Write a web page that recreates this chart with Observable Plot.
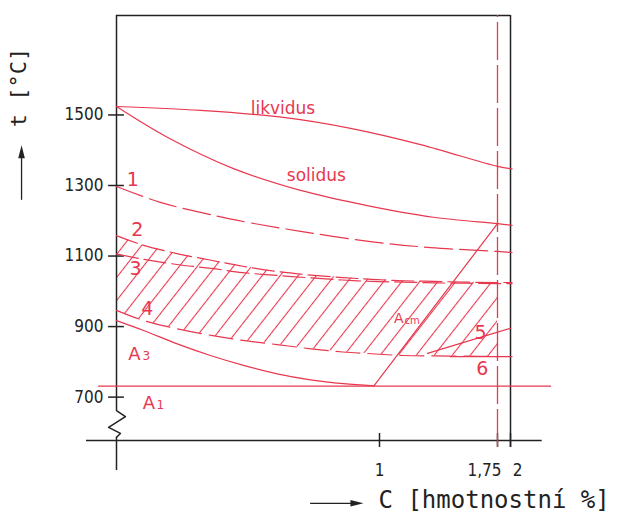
<!DOCTYPE html>
<html><head><meta charset="utf-8">
<script src="https://cdn.jsdelivr.net/npm/d3@7"></script>
<script src="https://cdn.jsdelivr.net/npm/@observablehq/plot@0.6"></script>
<style>body{margin:0;background:#fff}svg{display:block}</style>
</head><body><div id="chart"></div>
<script>
// ---- data (C in wt.%, t in °C) ----
const likvidusC = [0, 0.319, 0.635, 0.890, 1.261, 1.75, 2.03];
const likvidusT = [1524, 1513, 1493, 1462, 1416, 1354, 1347];
const solidusC = [0, 0.193, 0.445, 0.700, 0.954, 1.343, 1.75, 2.03];
const solidusT = [1524, 1437, 1348, 1286, 1243, 1210, 1192, 1187];
const line1C = [0, 0.167, 0.319, 0.460, 0.700, 0.966, 1.324, 1.75, 2.03];
const line1T = [1297, 1252, 1224, 1201, 1170, 1141, 1124, 1113, 1110];
const bandC  = [0, 0.1, 0.23, 0.36, 0.48, 0.61, 0.74, 0.86, 0.97, 1.15, 1.35, 1.55, 1.75, 2.03];
const line2T = [1158, 1131, 1107, 1088, 1071, 1056, 1046, 1039, 1034, 1030, 1028, 1026, 1025, 1025];
const line3T = [1106, 1091, 1076, 1065, 1053, 1045, 1038, 1032, 1028, 1026, 1024, 1023, 1022, 1022];
const line4T = [946, 918, 894, 875, 861, 849, 837, 828, 823, 818, 817, 816, 815, 815];
const line5C = [1.305, 2.0];
const line5T = [824, 895];
const line6C = [1.45, 2.03];
const line6T = [815, 815];
const a3C = [0, 0.103, 0.231, 0.357, 0.483, 0.611, 0.738, 0.863, 0.978];
const a3T = [917, 889, 851, 818, 790, 766, 749, 738, 732];
const a1C = [-0.068, 2.77];
const a1T = [731, 731];
const acmC = [0.978, 1.75];
const acmT = [731, 1192];
const maxC = 1.75;

const yTicks = [1500, 1300, 1100, 900, 700];
const xTicks = [1, 1.75, 2];
const xTickLabels = ["1", "1,75", "2"];

const labelText = ["likvidus", "solidus"];
const labelC = [0.633, 0.760];
const labelT = [1518, 1328];
const numText = ["1", "2", "3", "4", "5", "6"];
const numC = [0.062, 0.079, 0.072, 0.117, 1.642, 1.653];
const numT = [1317, 1173, 1064, 951, 883, 780];
const aSub = ["3", "1", "cm"];
const aC = [0.068, 0.123, 1.123];
const aT = [823, 683, 922];
const subC = [0.113, 0.167, 1.208];
const subT = [816, 676, 917];

// ---- helpers ----
const red = "#e8384f";
const ink = "#222";
const pts = (cs, ts) => cs.map((c, i) => ({c, t: ts[i]}));
const band = bandC.map((c, i) => ({c, t2: line2T[i], t3: line3T[i], t4: line4T[i]}));
const bandIn = band.filter(d => d.c <= maxC);

const tTop = 1782, tAxis = 577;
const zig = pts([0, 0.034, -0.03, 0.015, 0], [662, 645, 614, 597, 586]);

// narrow filled arrow head pointing up
const head = {draw(ctx) { ctx.moveTo(0, -6.5); ctx.lineTo(3.3, 6.5); ctx.lineTo(-3.3, 6.5); ctx.closePath(); }};

const sans = "DejaVu Sans";
const cond = "DejaVu Sans Condensed, DejaVu Sans";
const mono = "DejaVu Sans Mono";

const chart = Plot.plot({
  width: 620, height: 513,
  marginLeft: 116, marginRight: 110, marginTop: 15, marginBottom: 73,
  x: {type: "linear", domain: [0, 1, 1.75, 2], range: [116, 379, 497, 510], axis: null},
  y: {domain: [tAxis, tTop], range: [440, 15], axis: null},
  style: {background: "white", fontFamily: sans},
  marks: [
    // hatched forging band
    Plot.areaY(bandIn, {x: "c", y1: "t4", y2: "t2", fill: "url(#hatch)", curve: "catmull-rom"}),
    // frame and axes
    Plot.ruleY([tTop], {x1: 0, x2: 2, stroke: ink, strokeWidth: 1.5}),
    Plot.ruleX([2], {y1: 557, y2: tTop, stroke: ink, strokeWidth: 1.5}),
    Plot.ruleX([0], {y1: 662, y2: tTop, stroke: ink, strokeWidth: 1.5}),
    Plot.ruleX([0], {y1: 492, y2: 586, stroke: ink, strokeWidth: 1.5}),
    Plot.line(zig, {x: "c", y: "t", stroke: ink, strokeWidth: 1.5}),
    Plot.ruleY([tAxis], {x1: -0.114, x2: 2.61, stroke: ink, strokeWidth: 1.5}),
    Plot.ruleY(yTicks, {x1: -0.03, x2: 0.03, stroke: ink, strokeWidth: 1.5}),
    Plot.ruleX(xTicks, {y1: 557, y2: 597, stroke: ink, strokeWidth: 1.5}),
    Plot.text(yTicks, {x: 0, y: d => d, text: d => String(d), textAnchor: "end", dx: -13, fontSize: 17, fontFamily: cond, fill: ink}),
    Plot.text([0], {x: xTicks[0], y: 492, text: () => xTickLabels[0], fontSize: 17, fontFamily: cond, fill: ink}),
    Plot.text([0], {x: xTicks[1], y: 492, text: () => xTickLabels[1], dx: -13, fontSize: 17, fontFamily: cond, fill: ink}),
    Plot.text([0], {x: xTicks[2], y: 492, text: () => xTickLabels[2], dx: 7, fontSize: 17, fontFamily: cond, fill: ink}),
    // axis titles with arrows
    Plot.text(["t [°C]"], {x: -0.369, y: 1578, text: d => d, rotate: -90, fontSize: 22, fontFamily: mono, fill: ink}),
    Plot.ruleX([-0.361], {y1: 1258, y2: 1400, stroke: ink, strokeWidth: 1.3}),
    Plot.dot([0], {x: -0.361, y: 1414, dy: 6.5, symbol: head, fill: ink, stroke: "none"}),
    Plot.text(["C [hmotnostní %]"], {x: 1, y: 407, text: d => d, textAnchor: "start", dx: -1, fontSize: 24, fontFamily: mono, fill: ink}),
    Plot.ruleY([399], {x1: 0.738, x2: 0.9, stroke: ink, strokeWidth: 1.3}),
    Plot.dot([0], {x: 0.939, y: 399, dx: -6.5, rotate: 90, symbol: head, fill: ink, stroke: "none"}),
    // red curves
    Plot.ruleX([maxC], {y1: 557, y2: tTop, stroke: red, strokeWidth: 1.3, strokeDasharray: "38,5"}),
    Plot.line(pts(likvidusC, likvidusT), {x: "c", y: "t", stroke: red, strokeWidth: 1.2, curve: "catmull-rom"}),
    Plot.line(pts(solidusC, solidusT), {x: "c", y: "t", stroke: red, strokeWidth: 1.2, curve: "catmull-rom"}),
    Plot.line(pts(line1C, line1T), {x: "c", y: "t", stroke: red, strokeWidth: 1.2, strokeDasharray: "28,7", curve: "catmull-rom"}),
    Plot.line(band, {x: "c", y: "t2", stroke: red, strokeWidth: 1.2, strokeDasharray: "22,6", curve: "catmull-rom"}),
    Plot.line(band, {x: "c", y: "t3", stroke: red, strokeWidth: 1.2, strokeDasharray: "22,6", curve: "catmull-rom"}),
    Plot.line(bandIn, {x: "c", y: "t4", stroke: red, strokeWidth: 1.2, strokeDasharray: "24,8", curve: "catmull-rom"}),
    Plot.line(pts(line5C, line5T), {x: "c", y: "t", stroke: red, strokeWidth: 1.2}),
    Plot.line(pts(line6C, line6T), {x: "c", y: "t", stroke: red, strokeWidth: 1.2}),
    Plot.line(pts(a3C, a3T), {x: "c", y: "t", stroke: red, strokeWidth: 1.2, curve: "catmull-rom"}),
    Plot.line(pts(a1C, a1T), {x: "c", y: "t", stroke: red, strokeWidth: 1.3}),
    Plot.line(pts(acmC, acmT), {x: "c", y: "t", stroke: red, strokeWidth: 1.2}),
    // red labels
    Plot.text(labelText, {x: (d, i) => labelC[i], y: (d, i) => labelT[i], text: d => d, fontSize: 17, fontFamily: sans, fill: red}),
    Plot.text(numText, {x: (d, i) => numC[i], y: (d, i) => numT[i], text: d => d, fontSize: 19, fontFamily: sans, fill: red}),
    Plot.text(aSub, {x: (d, i) => aC[i], y: (d, i) => aT[i], text: () => "A", fontSize: (d, i) => i === 2 ? 14 : 18, fontFamily: sans, fill: red}),
    Plot.text(aSub, {x: (d, i) => subC[i], y: (d, i) => subT[i], text: d => d, fontSize: (d, i) => i === 2 ? 10 : 12, fontFamily: sans, fill: red})
  ]
});

// hatch pattern definition
const svg = d3.select(chart);
const defs = svg.insert("defs", ":first-child");
const pat = defs.append("pattern").attr("id", "hatch").attr("patternUnits", "userSpaceOnUse")
  .attr("width", 14.2).attr("height", 14.2).attr("patternTransform", "rotate(38)");
pat.append("line").attr("x1", 7.1).attr("x2", 7.1).attr("y1", -1).attr("y2", 15.2)
  .attr("stroke", red).attr("stroke-width", 1.1);

document.getElementById("chart").appendChild(chart);
</script>
</body></html>
